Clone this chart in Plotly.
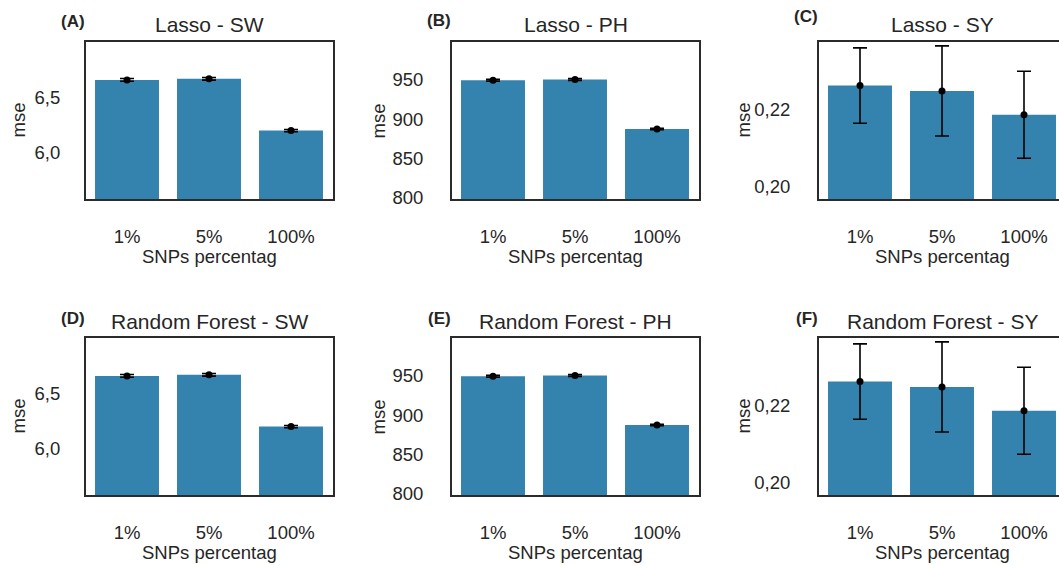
import plotly.graph_objects as go

W, H = 1059, 565

categories = ["1%", "5%", "100%"]

# Lasso
lasso_sw = [6.66, 6.67, 6.20]
lasso_sw_err = [0.012, 0.012, 0.010]
lasso_ph = [949.3, 950.2, 887.4]
lasso_ph_err = [1.2, 1.2, 1.0]
lasso_sy = [0.2263, 0.2249, 0.2187]
lasso_sy_err = [0.0098, 0.0117, 0.0113]

# Random Forest
rf_sw = [6.66, 6.67, 6.20]
rf_sw_err = [0.012, 0.012, 0.010]
rf_ph = [949.3, 950.2, 887.4]
rf_ph_err = [1.2, 1.2, 1.0]
rf_sy = [0.2263, 0.2249, 0.2187]
rf_sy_err = [0.0098, 0.0117, 0.0113]

titles = ["Lasso - SW", "Lasso - PH", "Lasso - SY",
          "Random Forest - SW", "Random Forest - PH", "Random Forest - SY"]
panel_labels = ["(A)", "(B)", "(C)", "(D)", "(E)", "(F)"]

sw_ticks = [6.0, 6.5]
sw_ticktext = ["6,0", "6,5"]
ph_ticks = [800, 850, 900, 950]
ph_ticktext = ["800", "850", "900", "950"]
sy_ticks = [0.20, 0.22]
sy_ticktext = ["0,20", "0,22"]

BAR = "#3482ae"
TXT = "#262626"
LINE = "#2b2b2b"
FONT = "Liberation Sans, Arial, sans-serif"

series = [
    (lasso_sw, lasso_sw_err, sw_ticks, sw_ticktext),
    (lasso_ph, lasso_ph_err, ph_ticks, ph_ticktext),
    (lasso_sy, lasso_sy_err, sy_ticks, sy_ticktext),
    (rf_sw, rf_sw_err, sw_ticks, sw_ticktext),
    (rf_ph, rf_ph_err, ph_ticks, ph_ticktext),
    (rf_sy, rf_sy_err, sy_ticks, sy_ticktext),
]

# pixel layout of plot boxes
col_left = [86, 452, 819]
col_right = [333, 699, 1065]      # third column extends past the page edge
row_top = [42, 338]
row_bot = [199, 495]
label_y = [22, 20, 17, 318, 318, 318]
step = 82.0  # px per category

def px(x):
    return x / W

def py(y):
    return 1 - y / H

fig = go.Figure()
annotations = []
layout_axes = {}

for i, (vals, errs, tv, tt) in enumerate(series):
    r, c = divmod(i, 3)
    n = i + 1
    xa = "x" if n == 1 else f"x{n}"
    ya = "y" if n == 1 else f"y{n}"
    left, right = col_left[c], col_right[c]
    top, bot = row_top[r], row_bot[r]
    clip_right = min(right, W)
    xmax = -0.5 + (clip_right - left) / step

    fig.add_trace(go.Bar(x=categories, y=vals, marker_color=BAR, marker_line_width=0,
                         width=0.78, xaxis=xa, yaxis=ya, showlegend=False))
    fig.add_trace(go.Scatter(x=categories, y=vals, mode="markers",
                             marker=dict(color="black", size=7),
                             error_y=dict(type="data", array=errs, color="black",
                                          thickness=1.6, width=7),
                             xaxis=xa, yaxis=ya, showlegend=False))

    ymin = min(vals) * 0.9
    ymax = max(vals) * 1.05
    xkey = "xaxis" if n == 1 else f"xaxis{n}"
    ykey = "yaxis" if n == 1 else f"yaxis{n}"
    layout_axes[xkey] = dict(
        domain=[px(left), px(clip_right)], anchor=ya, range=[-0.5, xmax],
        type="category", showline=True, mirror=True, linecolor=LINE, linewidth=2,
        showgrid=False, zeroline=False, ticks="", ticklabelstandoff=20, automargin=False,
        tickfont=dict(size=18.5, color=TXT, family=FONT),
    )
    layout_axes[ykey] = dict(
        domain=[py(bot), py(top)], anchor=xa, range=[ymin, ymax],
        showline=True, mirror=(c != 2), linecolor=LINE, linewidth=2,
        showgrid=False, zeroline=False, ticks="", automargin=False,
        tickvals=tv, ticktext=tt, ticklabelstandoff=20 if c == 0 else 23,
        tickfont=dict(size=18.5, color=TXT, family=FONT),
    )

    cx = (left + right) / 2
    # subplot title
    annotations.append(dict(text=titles[i], x=px(cx), y=py(top - 17), xref="paper", yref="paper",
                            showarrow=False, xanchor="center", yanchor="middle",
                            font=dict(size=21, color=TXT, family=FONT)))
    # panel label
    annotations.append(dict(text="<b>" + panel_labels[i] + "</b>", x=px(left + 1), y=py(label_y[i]),
                            xref="paper", yref="paper", showarrow=False,
                            xanchor="right", yanchor="middle",
                            font=dict(size=17, color=TXT, family=FONT)))
    # x title
    annotations.append(dict(text="SNPs percentag", x=px(cx),
                            y=py(bot + 57), xref="paper", yref="paper", showarrow=False,
                            xanchor="center", yanchor="middle",
                            font=dict(size=18.5, color=TXT, family=FONT)))
    # y title
    ytx = [18, 378, 743][c]
    annotations.append(dict(text="mse", x=px(ytx), y=py((top + bot) / 2), xref="paper", yref="paper",
                            showarrow=False, xanchor="center", yanchor="middle", textangle=-90,
                            font=dict(size=18.5, color=TXT, family=FONT)))

fig.update_layout(
    width=W, height=H, margin=dict(l=0, r=0, t=0, b=0, autoexpand=False),
    paper_bgcolor="white", plot_bgcolor="white",
    font=dict(family=FONT, color=TXT),
    annotations=annotations, bargap=0.22,
    **layout_axes,
)

fig.write_html("out.html")
